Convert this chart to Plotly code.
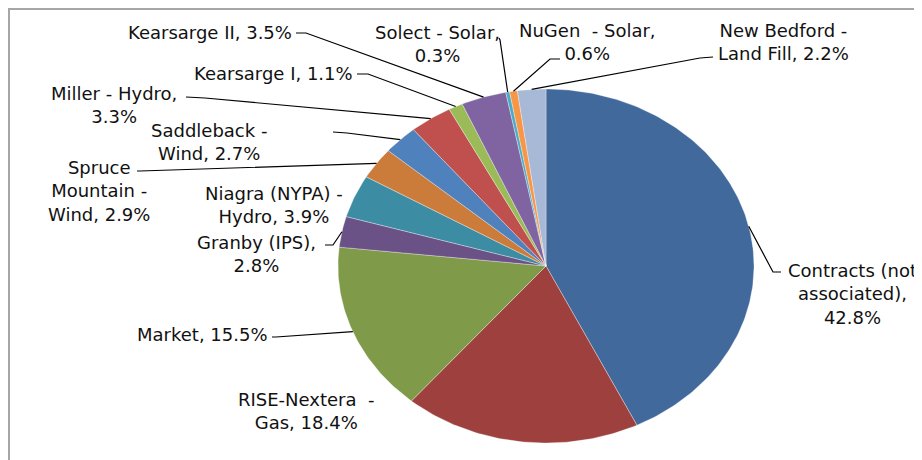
import numpy as np
import plotly.graph_objects as go

# ---------------- data ----------------
names = ["Contracts (not associated)", "RISE-Nextera - Gas", "Market", "Granby (IPS)",
         "Niagra (NYPA) - Hydro", "Spruce Mountain - Wind", "Saddleback - Wind",
         "Miller - Hydro", "Kearsarge I", "Kearsarge II", "Solect - Solar",
         "NuGen - Solar", "New Bedford - Land Fill"]
shares = [42.8, 18.4, 15.5, 2.8, 3.9, 2.9, 2.7, 3.3, 1.1, 3.5, 0.3, 0.6, 2.2]
label_templates = ["Contracts (not<br>associated),<br>{v}%", "RISE-Nextera  -<br>Gas, {v}%",
                   "Market, {v}%", "Granby (IPS),<br>{v}%", "Niagra (NYPA) -<br>Hydro, {v}%",
                   "Spruce<br>Mountain -<br>Wind, {v}%", "Saddleback -<br>Wind, {v}%",
                   "Miller - Hydro,<br>{v}%", "Kearsarge I, {v}%", "Kearsarge II, {v}%",
                   "Solect - Solar,<br>{v}%", "NuGen  - Solar,<br>{v}%",
                   "New Bedford -<br>Land Fill, {v}%"]
colors = ["#41699B", "#9E413E", "#7F9A48", "#6A5287", "#3C8DA3", "#CC7C3A", "#4F81BD",
          "#C0504D", "#9BBB59", "#8064A2", "#4BACC6", "#F79646", "#A7B9D7"]

# ---------------- layout (pixel geometry, page coordinates) ----------------
W, H = 922, 460
OFF = 8  # page body margin
CX, CY, RX, RY = 546 - OFF, 266 - OFF, 208, 177

def P(x, y):
    return (x - OFF - CX) / RX, (CY - (y - OFF)) / RY

# label placement: (x, y, xanchor), leader path points from label side (pixels) or None
label_pos = [
    (852, 294, "center", [(781, 272), (773, 272)]),
    (306, 411, "center", None),
    (270, 334, "right", [(272, 337), (276, 337)]),
    (256, 254, "center", [(325, 245), (333, 245)]),
    (274, 205, "center", None),
    (99, 191, "center", [(137, 171), (140, 171)]),
    (209, 142, "center", [(333, 132), (347, 133)]),
    (114, 105, "center", [(186, 97), (205, 98)]),
    (355, 73, "right", [(357, 74), (368, 74)]),
    (294, 32, "right", [(296, 33), (306, 33)]),
    (437, 44, "center", [(499, 38), (500, 40)]),
    (587, 42, "center", [(560, 59), (550, 59)]),
    (783, 42, "center", [(713, 57), (700, 58)]),
]

fig = go.Figure()
total = sum(shares)
cum = 0.0
mids = []
for name, v, c in zip(names, shares, colors):
    t0 = cum / total * 2 * np.pi
    cum += v
    t1 = cum / total * 2 * np.pi
    th = np.linspace(t0, t1, max(3, int(v * 4)))
    xs = [0] + list(np.sin(th)) + [0]
    ys = [0] + list(np.cos(th)) + [0]
    fig.add_trace(go.Scatter(x=xs, y=ys, mode="lines", fill="toself", fillcolor=c,
                             line=dict(color="rgba(255,255,255,0.55)", width=0.6),
                             hoverinfo="text", text=f"{name}: {v}%", showlegend=False))
    mids.append((t0 + t1) / 2)

# leader lines
lx, ly = [], []
for m, (tx, ty, anc, path) in zip(mids, label_pos):
    if path is None:
        continue
    for (px_, py_) in path:
        a, b = P(px_, py_)
        lx.append(a); ly.append(b)
    lx.append(np.sin(m)); ly.append(np.cos(m))
    lx.append(None); ly.append(None)
fig.add_trace(go.Scatter(x=lx, y=ly, mode="lines", line=dict(color="black", width=1.2),
                         hoverinfo="skip", showlegend=False))

annotations = []
for tpl, v, (tx, ty, anc, path) in zip(label_templates, shares, label_pos):
    a, b = P(tx, ty)
    annotations.append(dict(x=a, y=b, xref="x", yref="y", text=tpl.format(v=v),
                            showarrow=False, xanchor=anc, yanchor="middle", align="center",
                            font=dict(family="DejaVu Sans", size=18, color="#111111")))

fig.update_layout(
    width=W, height=H, margin=dict(l=0, r=0, t=0, b=0),
    paper_bgcolor="white", plot_bgcolor="white",
    xaxis=dict(range=[(0 - CX) / RX, (W - CX) / RX], visible=False, fixedrange=True),
    yaxis=dict(range=[(CY - H) / RY, CY / RY], visible=False, fixedrange=True),
    annotations=annotations,
    shapes=[dict(type="rect", xref="paper", yref="paper", x0=1 / W, x1=1.05,
                 y0=-0.05, y1=1 - 1 / H, line=dict(color="#A6A6A6", width=2))],
    showlegend=False,
)
fig.write_html("out.html")
